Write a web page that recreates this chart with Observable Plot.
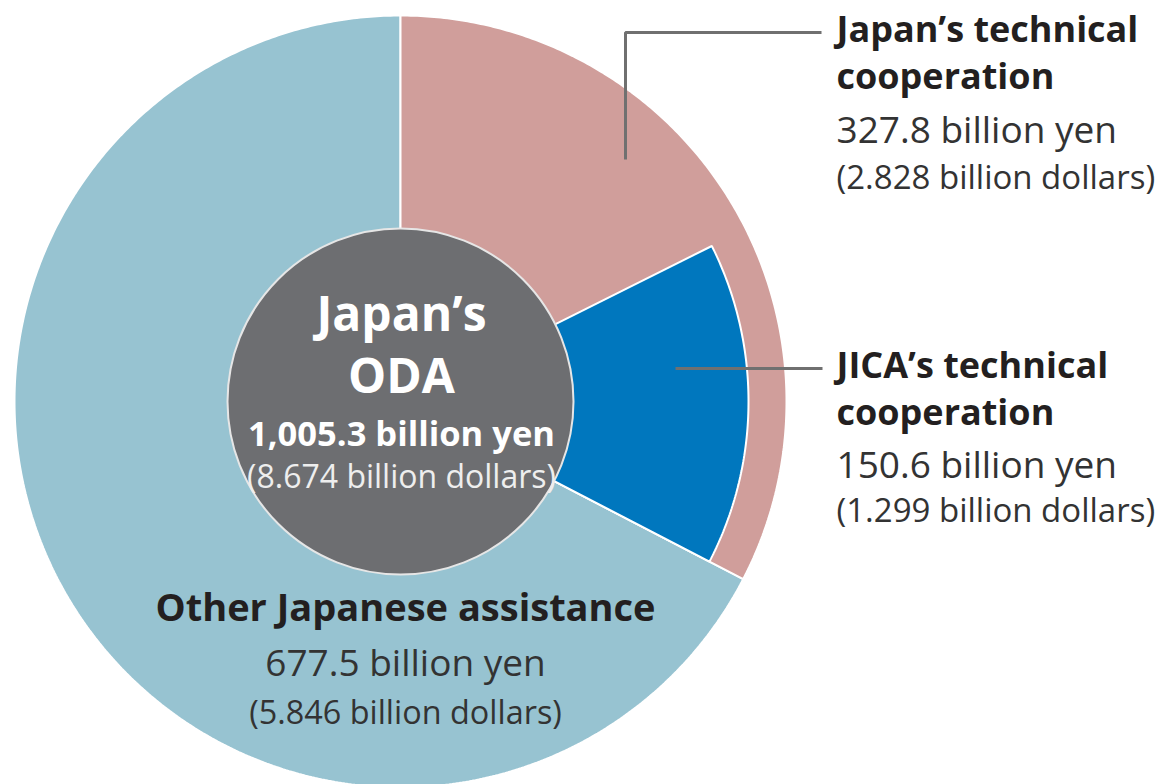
<!DOCTYPE html>
<html>
<head>
<meta charset="utf-8">
<script src="https://cdn.jsdelivr.net/npm/d3@7"></script>
<script src="https://cdn.jsdelivr.net/npm/@observablehq/plot@0.6"></script>
<style>
  html, body { margin: 0; padding: 0; background: #ffffff; }
  #chart svg { display: block; }
</style>
</head>
<body>
<div id="chart"></div>
<script>
// ---------------- DATA ----------------
const categories = ["Japan’s technical cooperation", "Other Japanese assistance"];
const yenBillions = [327.8, 677.5];
const dollarBillions = [2.828, 5.846];

const subsetCategory = "JICA’s technical cooperation";   // part of Japan's technical cooperation
const subsetYen = 150.6;
const subsetDollars = 1.299;

const totalTitle = ["Japan’s", "ODA"];
const totalYen = 1005.3;
const totalDollars = 8.674;

// ---------------- STYLE / LAYOUT ----------------
const W = 1160, H = 784;
const CX = 400, CY = 401;            // pixel centre of the pie
const R_OUT = 386, R_SUB = 348, R_IN = 173;
const colors = {
  "Japan’s technical cooperation": "#d09e9b",
  "Other Japanese assistance": "#97c3d1",
  subset: "#0077be",
  core: "#6d6e71",
  text: "#231f20",
  value: "#333333",
  leader: "#707070"
};
const fmtYen = d3.format(",.1f");
const fmtUsd = d3.format(".3f");
const yenText = v => `${fmtYen(v)} billion yen`;
const usdText = v => `(${fmtUsd(v)} billion dollars)`;

// pixel -> data coordinates (data units are pixels, centred on the pie, y up)
const px = (x, y) => ({x: x - CX, y: CY - y});

// ---------------- GEOMETRY FROM DATA ----------------
const rows = categories.map((c, i) => ({category: c, yen: yenBillions[i], usd: dollarBillions[i]}));
const arcs = d3.pie().sort(null).value(d => d.yen)(rows);

function wedge(a0, a1, r, key) {
  const n = Math.max(2, Math.ceil(Math.abs(a1 - a0) / (Math.PI / 360)));
  const pts = [{x: 0, y: 0, key}];
  for (let i = 0; i <= n; i++) {
    const a = a0 + (a1 - a0) * i / n;
    pts.push({x: r * Math.sin(a), y: r * Math.cos(a), key});
  }
  pts.push({x: 0, y: 0, key});
  return pts;
}

const sliceMarks = arcs.slice().reverse().map(a =>
  Plot.line(wedge(a.startAngle, a.endAngle, R_OUT, a.data.category), {
    x: "x", y: "y", fill: colors[a.data.category], stroke: "#ffffff",
    strokeWidth: 2, strokeLinejoin: "miter", curve: "linear"
  })
);

// JICA wedge: a subset of Japan's technical cooperation, aligned to its end
const techArc = arcs[0];
const subEnd = techArc.endAngle;
const subStart = subEnd - (subsetYen / d3.sum(yenBillions)) * 2 * Math.PI;
const subsetMark = Plot.line(wedge(subStart, subEnd, R_SUB, subsetCategory), {
  x: "x", y: "y", fill: colors.subset, stroke: "#ffffff", strokeWidth: 2,
  strokeLinejoin: "miter", curve: "linear"
});

// ---------------- TEXT ----------------
function splitTitle(s) {
  const i = s.lastIndexOf(" ");
  return s.slice(0, i) + "\n" + s.slice(i + 1);
}
const textRows = [];
function addLines(x, anchor, lines) {
  lines.forEach(([text, y, size, weight, fill, lh]) => {
    textRows.push({...px(x, y), text, size, weight, fill, anchor, lh: lh || 1});
  });
}
// right-hand labels (two-line bold titles, baseline of the 2nd line given)
addLines(836, "start", [
  [splitTitle(categories[0]), 88, 36, 700, colors.text, 47 / 36],
  [yenText(yenBillions[0]), 142, 37, 400, colors.value],
  [usdText(dollarBillions[0]), 188, 33, 400, colors.value]
]);
addLines(836, "start", [
  [splitTitle(subsetCategory), 424, 36, 700, colors.text, 47 / 36],
  [yenText(subsetYen), 477, 37, 400, colors.value],
  [usdText(subsetDollars), 521, 33, 400, colors.value]
]);
// centre
addLines(401, "middle", [
  [totalTitle.join("\n"), 392, 48, 700, "#ffffff", 62 / 48],
  [yenText(totalYen), 445, 34.5, 700, "#ffffff"],
  [usdText(totalDollars), 487, 32, 400, "#eeeeee"]
]);
// other assistance
addLines(405, "middle", [
  [categories[1], 620, 38, 700, colors.text],
  [yenText(yenBillions[1]), 675, 37, 400, colors.value],
  [usdText(dollarBillions[1]), 723, 32.4, 400, colors.value]
]);

const textMarks = d3.groups(textRows, d => `${d.size}|${d.weight}|${d.fill}|${d.anchor}|${d.lh}`).map(([k, g]) =>
  Plot.text(g, {
    x: "x", y: "y", text: "text", fontSize: g[0].size, fontWeight: g[0].weight,
    fill: g[0].fill, textAnchor: g[0].anchor, lineAnchor: "bottom", lineHeight: g[0].lh
  })
);

// leader lines (annotation)
const leader1 = [px(625, 159), px(625, 32), px(821, 32)];
const leader2 = [px(675, 368), px(822, 368)];

const chart = Plot.plot({
  width: W,
  height: H,
  margin: 0,
  x: {domain: [-CX, W - CX], range: [0, W], axis: null},
  y: {domain: [CY - H, CY], range: [H, 0], axis: null},
  style: {fontFamily: "'Open Sans', 'Noto Sans', sans-serif", background: "#ffffff"},
  marks: [
    ...sliceMarks,
    subsetMark,
    Plot.dot([{x: 0, y: 0}], {x: "x", y: "y", r: R_IN, fill: colors.core, stroke: "#e6e6e6", strokeWidth: 2}),
    Plot.line(leader1, {x: "x", y: "y", stroke: colors.leader, strokeWidth: 3, strokeLinecap: "butt", strokeLinejoin: "miter"}),
    Plot.line(leader2, {x: "x", y: "y", stroke: colors.leader, strokeWidth: 3, strokeLinecap: "butt"}),
    ...textMarks
  ]
});
document.getElementById("chart").appendChild(chart);
</script>
</body>
</html>
